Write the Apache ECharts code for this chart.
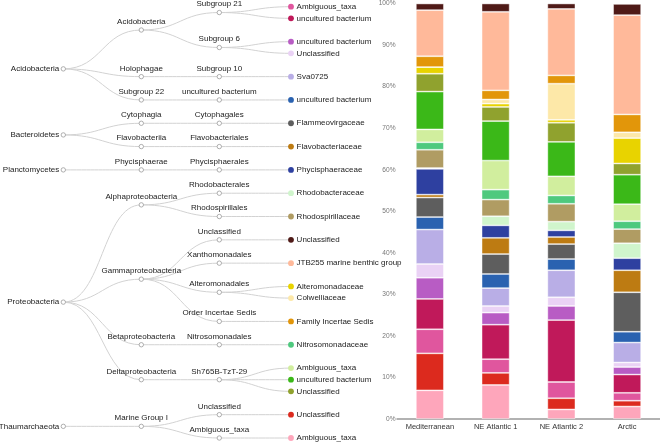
<!DOCTYPE html>
<html><head><meta charset="utf-8">
<script src="https://cdn.jsdelivr.net/npm/echarts@6/dist/echarts.min.js"></script>
<style>html,body{margin:0;padding:0;background:#fff}#chart{width:660px;height:442px}</style>
</head><body><div id="chart"></div>
<script>
// Taxonomy paths (phylum / class / order / family), in tree order
const taxa = [
  ['Acidobacteria','Acidobacteria','Subgroup 21','Ambiguous_taxa'],
  ['Acidobacteria','Acidobacteria','Subgroup 21','uncultured bacterium'],
  ['Acidobacteria','Acidobacteria','Subgroup 6','uncultured bacterium'],
  ['Acidobacteria','Acidobacteria','Subgroup 6','Unclassified'],
  ['Acidobacteria','Holophagae','Subgroup 10','Sva0725'],
  ['Acidobacteria','Subgroup 22','uncultured bacterium','uncultured bacterium'],
  ['Bacteroidetes','Cytophagia','Cytophagales','Flammeovirgaceae'],
  ['Bacteroidetes','Flavobacteriia','Flavobacteriales','Flavobacteriaceae'],
  ['Planctomycetes','Phycisphaerae','Phycisphaerales','Phycisphaeraceae'],
  ['Proteobacteria','Alphaproteobacteria','Rhodobacterales','Rhodobacteraceae'],
  ['Proteobacteria','Alphaproteobacteria','Rhodospirillales','Rhodospirillaceae'],
  ['Proteobacteria','Gammaproteobacteria','Unclassified','Unclassified'],
  ['Proteobacteria','Gammaproteobacteria','Xanthomonadales','JTB255 marine benthic group'],
  ['Proteobacteria','Gammaproteobacteria','Alteromonadales','Alteromonadaceae'],
  ['Proteobacteria','Gammaproteobacteria','Alteromonadales','Colwelliaceae'],
  ['Proteobacteria','Gammaproteobacteria','Order Incertae Sedis','Family Incertae Sedis'],
  ['Proteobacteria','Betaproteobacteria','Nitrosomonadales','Nitrosomonadaceae'],
  ['Proteobacteria','Deltaproteobacteria','Sh765B-TzT-29','Ambiguous_taxa'],
  ['Proteobacteria','Deltaproteobacteria','Sh765B-TzT-29','uncultured bacterium'],
  ['Proteobacteria','Deltaproteobacteria','Sh765B-TzT-29','Unclassified'],
  ['Thaumarchaeota','Marine Group I','Unclassified','Unclassified'],
  ['Thaumarchaeota','Marine Group I','Ambiguous_taxa','Ambiguous_taxa']
];
const taxaColors = ['#e0569e','#c0195a','#b85cc4','#ead2f5','#b9aee6','#2a62b0','#5e5e5e','#bd7b12',
  '#2e40a0','#d0f5cc','#b09c63','#4f1a17','#ffb99a','#e8d300','#fde8a8','#e2960a',
  '#4ec97e','#d1ee9e','#3bb818','#90a22e','#dc2a1e','#fea6bb'];
// stacking order in bars (bottom to top), as indices into taxa
const stackOrder = [21,20,0,1,2,3,4,5,6,7,8,9,10,16,17,18,19,13,14,15,12,11];

const sites = ['Mediterranean','NE Atlantic 1','NE Atlantic 2','Arctic'];
// relative abundance (%) per taxon, in tree order
const mediterranean = [5.8,7.3,5.1,3.3,8.3,3.0,4.7,0.7,6.2,0.2,4.4,1.6,11.1,1.6,0,2.6,1.8,3.1,9.1,4.3,8.9,6.9];
const neAtlantic1   = [3.3,8.3,2.9,1.6,4.3,3.4,4.8,3.9,3.0,2.2,4.0,2.0,18.9,0.8,1.0,2.2,2.4,7.0,9.5,3.4,2.9,8.2];
const neAtlantic2   = [3.9,14.9,3.4,2.1,6.5,2.7,3.6,1.7,1.6,2.1,4.3,1.3,16.0,0.7,8.7,2.0,2.0,4.6,8.3,4.6,2.7,2.3];
const arctic        = [1.9,4.4,1.8,1.1,4.8,2.6,9.5,5.3,2.9,3.6,3.4,2.7,23.9,6.1,1.4,4.3,1.9,4.1,7.1,2.7,1.4,3.0];
const siteValues = [mediterranean, neAtlantic1, neAtlantic2, arctic];
const yTicks = [0,10,20,30,40,50,60,70,80,90,100];

// ---- build tree (cluster layout: leaves spaced 1 for siblings, 2 otherwise; parents at mean of children)
const root = {name:'', depth:-1, children:[]};
taxa.forEach((path, i) => {
  let node = root;
  path.forEach((name, d) => {
    let c = node.children.find(ch => ch.name === name);
    if (!c) { c = {name, depth:d, children:[], parent:node}; node.children.push(c); }
    node = c;
  });
  node.leafIndex = i;
});
const nodes = [], links = [];
let lastLeaf = null, cursor = 0;
(function walk(n){
  if (n.depth >= 0) nodes.push(n);
  if (!n.children.length) {
    if (lastLeaf) cursor += (lastLeaf.parent === n.parent ? 1 : 2);
    n.pos = cursor; lastLeaf = n;
  } else {
    n.children.forEach(walk);
    n.pos = n.children.reduce((s,c)=>s+c.pos,0)/n.children.length;
  }
})(root);
nodes.forEach(n => { if (n.parent && n.parent.depth >= 0) links.push([n.parent.depth, n.parent.pos, n.depth, n.pos, n.children.length ? 0 : 1]); });
const leafInset = 6.3;
const FONT = 'Liberation Sans';

const chart = echarts.init(document.getElementById('chart'), null, {renderer:'canvas'});
const barSeries = stackOrder.map(ti => ({
  type:'bar', stack:'total', name: taxa[ti][3], barWidth: 28,
  xAxisIndex:0, yAxisIndex:0,
  data: siteValues.map(v => v[ti]),
  itemStyle:{color: taxaColors[ti], borderColor:'rgba(255,255,255,0.55)', borderWidth:0.8},
  emphasis:{disabled:true}
}));

chart.setOption({
  animation:false,
  grid:[
    {left:397, width:274, top:3.3, bottom:23},
    {left:63.3, width:234, top:6.7, height:431.3}
  ],
  xAxis:[
    {gridIndex:0, type:'category', data:sites, axisTick:{show:false},
     axisLine:{lineStyle:{color:'#999', width:1.5}},
     axisLabel:{color:'#333', fontSize:7.5, fontFamily:FONT, margin:4}},
    {gridIndex:1, type:'value', min:0, max:3, show:false}
  ],
  yAxis:[
    {gridIndex:0, type:'value', min:yTicks[0], max:yTicks[yTicks.length-1], interval:10,
     axisLine:{show:false}, axisTick:{show:false}, splitLine:{show:false},
     axisLabel:{color:'#777', fontSize:6.6, fontFamily:FONT, margin:1.5, formatter:'{value}%'}},
    {gridIndex:1, type:'value', min:0, max:37, inverse:true, show:false}
  ],
  series: barSeries.concat([
    {type:'custom', xAxisIndex:1, yAxisIndex:1, silent:true, data: links,
     encode:{x:[0,2], y:[1,3]},
     renderItem(params, api){
       const a = api.coord([api.value(0), api.value(1)]);
       const b = api.coord([api.value(2), api.value(3)]);
       if (api.value(4)) b[0] -= leafInset;
       const mx = (a[0]+b[0])/2;
       return {type:'bezierCurve', shape:{x1:a[0],y1:a[1],x2:b[0],y2:b[1],cpx1:mx,cpy1:a[1],cpx2:mx,cpy2:b[1]},
         style:{stroke:'#d2d2d2', lineWidth:1, fill:null}};
     }},
    {type:'custom', xAxisIndex:1, yAxisIndex:1, silent:true, data: nodes.map(n => [n.depth, n.pos]),
     renderItem(params, api){
       const n = nodes[params.dataIndex];
       const p = api.coord([api.value(0), api.value(1)]);
       const leaf = !n.children.length;
       if (leaf) p[0] -= leafInset;
       let tx, ty, align, valign;
       if (leaf) { tx = p[0]+5.6; ty = p[1]; align='left'; valign='middle'; }
       else if (n.depth === 0) { tx = p[0]-4; ty = p[1]; align='right'; valign='middle'; }
       else { tx = p[0]; ty = p[1]-8.3; align='center'; valign='middle'; }
       return {type:'group', children:[
         {type:'circle', shape:{cx:p[0], cy:p[1], r: leaf ? 2.9 : 2.2},
          style: leaf ? {fill: taxaColors[n.leafIndex]} : {fill:'#fff', stroke:'#9a9a9a', lineWidth:0.8}},
         {type:'text', style:{text:n.name, x:tx, y:ty, align:align, verticalAlign:valign,
          textAlign:align, textVerticalAlign:valign, fontSize:8, fontFamily:FONT, fill:'#222'}}
       ]};
     }}
  ])
});
</script></body></html>
